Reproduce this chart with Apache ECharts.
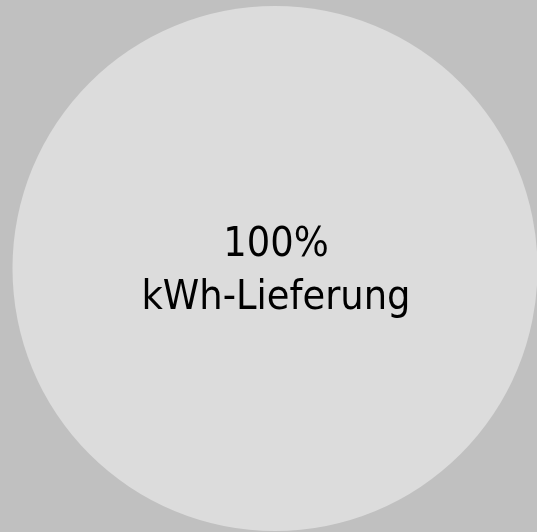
<!DOCTYPE html>
<html>
<head>
<meta charset="utf-8">
<script src="https://cdn.jsdelivr.net/npm/echarts@6/dist/echarts.min.js"></script>
<style>
  html, body { margin: 0; padding: 0; background: #c0c0c0; }
  #chart { width: 537px; height: 532px; }
</style>
</head>
<body>
<div id="chart"></div>
<script>
// Daten
const categories = ['kWh-Lieferung']
const values = [100]

const myChart = echarts.init(document.getElementById('chart'))
const option = {
  backgroundColor: '#c0c0c0',
  animation: false,
  color: ['#dcdcdc'],
  series: [
    {
      type: 'pie',
      center: [275, 268.5],
      radius: 262.5,
      silent: true,
      label: {
        show: true,
        position: 'center',
        formatter: '{d}%\n{b}',
        color: '#000000',
        fontFamily: 'DejaVu Sans Condensed',
        fontSize: 41,
        lineHeight: 53,
        offset: [1, 3]
      },
      labelLine: { show: false },
      itemStyle: { borderWidth: 0 },
      data: categories.map((name, i) => ({ name: name, value: values[i] }))
    }
  ]
}
myChart.setOption(option)
</script>
</body>
</html>
